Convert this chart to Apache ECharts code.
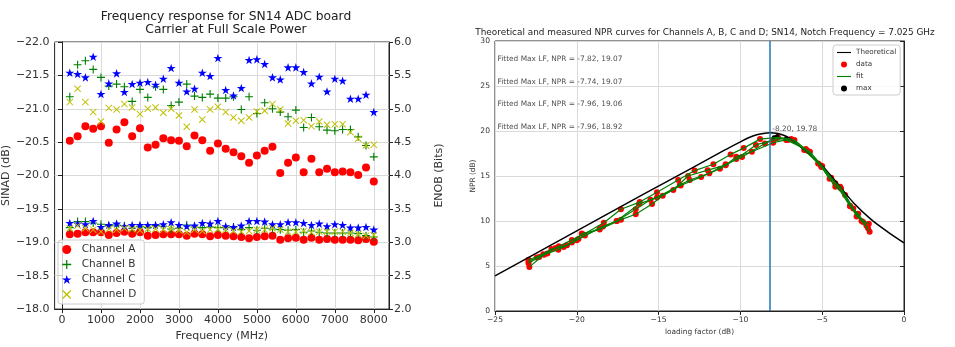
<!DOCTYPE html>
<html>
<head>
<meta charset="utf-8">
<script src="https://cdn.jsdelivr.net/npm/echarts@6.0.0/dist/echarts.min.js"></script>
<style>
  html, body { margin: 0; padding: 0; background: #fff; }
  #chart { width: 955px; height: 347px; }
</style>
</head>
<body>
<div id="chart"></div>
<script>
// ---- left panel: SINAD (left, inverted) and ENOB (right) vs frequency ----
const freqs = [200, 400, 600, 800, 1000, 1200, 1400, 1600, 1800, 2000,
  2200, 2400, 2600, 2800, 3000, 3200, 3400, 3600, 3800, 4000,
  4200, 4400, 4600, 4800, 5000, 5200, 5400, 5600, 5800, 6000,
  6200, 6400, 6600, 6800, 7000, 7200, 7400, 7600, 7800, 8000];
const freqTicks = [0, 1000, 2000, 3000, 4000, 5000, 6000, 7000, 8000];

const sinadA = [-20.52, -20.59, -20.74, -20.70, -20.74, -20.49, -20.69, -20.80, -20.59, -20.71,
  -20.42, -20.46, -20.56, -20.53, -20.52, -20.44, -20.60, -20.53, -20.37, -20.48,
  -20.40, -20.35, -20.29, -20.19, -20.30, -20.37, -20.43, -20.04, -20.19, -20.27,
  -20.05, -20.25, -20.05, -20.10, -20.05, -20.06, -20.05, -20.01, -20.12, -19.91];
const sinadB = [-21.18, -21.66, -21.72, -21.59, -21.47, -21.34, -21.37, -21.33, -21.11, -21.29,
  -21.17, -21.33, -21.29, -21.05, -21.10, -21.37, -21.19, -21.17, -21.22, -21.16,
  -21.16, -21.18, -20.99, -21.18, -20.93, -21.09, -21.00, -20.95, -20.88, -20.98,
  -20.72, -20.87, -20.73, -20.68, -20.67, -20.69, -20.69, -20.58, -20.45, -20.28];
const sinadC = [-21.54, -21.52, -21.47, -21.78, -21.22, -21.38, -21.53, -21.25, -21.37, -21.39,
  -21.40, -21.36, -21.45, -21.61, -21.39, -21.26, -21.30, -21.54, -21.49, -21.76,
  -21.28, -21.20, -21.31, -21.73, -21.74, -21.67, -21.47, -21.44, -21.62, -21.62,
  -21.55, -21.38, -21.48, -21.26, -21.45, -21.42, -21.15, -21.15, -21.21, -20.95];
const sinadD = [-21.10, -21.30, -21.10, -20.95, -20.81, -21.01, -20.99, -21.07, -21.02, -20.92,
  -21.00, -21.02, -20.94, -21.00, -20.90, -20.73, -20.99, -20.84, -20.99, -21.03,
  -20.95, -20.87, -20.82, -20.87, -20.96, -20.97, -21.07, -20.99, -20.78, -20.82,
  -20.83, -20.74, -20.81, -20.76, -20.77, -20.77, -20.65, -20.55, -20.45, -20.46];

const enobA = [3.12, 3.13, 3.15, 3.15, 3.15, 3.11, 3.14, 3.16, 3.13, 3.15,
  3.10, 3.11, 3.12, 3.12, 3.12, 3.10, 3.13, 3.12, 3.09, 3.11,
  3.10, 3.09, 3.08, 3.06, 3.08, 3.09, 3.10, 3.04, 3.06, 3.07,
  3.04, 3.07, 3.04, 3.05, 3.04, 3.04, 3.04, 3.03, 3.05, 3.01];
const enobB = [3.22, 3.31, 3.31, 3.29, 3.27, 3.25, 3.26, 3.25, 3.21, 3.24,
  3.22, 3.25, 3.24, 3.20, 3.21, 3.26, 3.23, 3.22, 3.23, 3.22,
  3.22, 3.23, 3.19, 3.22, 3.18, 3.21, 3.20, 3.19, 3.18, 3.19,
  3.15, 3.17, 3.15, 3.14, 3.14, 3.14, 3.14, 3.13, 3.10, 3.08];
const enobC = [3.29, 3.28, 3.27, 3.32, 3.23, 3.26, 3.28, 3.24, 3.26, 3.26,
  3.26, 3.26, 3.27, 3.30, 3.26, 3.24, 3.25, 3.29, 3.28, 3.32,
  3.24, 3.23, 3.25, 3.32, 3.32, 3.31, 3.27, 3.27, 3.30, 3.30,
  3.29, 3.26, 3.28, 3.24, 3.27, 3.26, 3.22, 3.22, 3.23, 3.19];
const enobD = [3.21, 3.25, 3.21, 3.19, 3.16, 3.20, 3.19, 3.21, 3.20, 3.18,
  3.20, 3.20, 3.19, 3.20, 3.18, 3.15, 3.19, 3.17, 3.19, 3.20,
  3.19, 3.17, 3.16, 3.17, 3.19, 3.19, 3.21, 3.19, 3.16, 3.16,
  3.17, 3.15, 3.16, 3.16, 3.16, 3.16, 3.14, 3.12, 3.10, 3.11];

// ---- right panel: NPR vs loading factor ----
const theoLF = [-25, -22, -19, -16, -13, -11, -10, -9.5, -9, -8.5, -8.2, -7.8, -7.4, -7, -6.4, -6, -5, -4, -3, -2, -1, 0];
const theoNPR = [3.9, 6.9, 9.9, 12.9, 15.85, 17.85, 18.8, 19.25, 19.58, 19.76, 19.8, 19.74, 19.55, 19.2, 18.35, 17.75, 16.15, 14.0, 11.85, 10.15, 8.8, 7.57];

const lfA = [-22.95, -22.05, -21.1, -20.3, -19.6, -18.35, -17.3, -16.15, -15.1, -13.8, -12.8, -11.65, -10.6, -9.8, -8.8, -7.7, -6.9, -6.1, -5.25, -4.45, -3.85, -3.3, -2.8, -2.3];
const nprA = [5.7, 6.3, 7.2, 7.9, 8.5, 9.8, 11.3, 12.1, 13.2, 14.55, 15.6, 16.3, 17.4, 18.1, 19.1, 19.3, 19.1, 17.9, 16.4, 14.8, 13.6, 11.7, 10.8, 9.5];
const lfB = [-22.95, -22.45, -21.55, -20.8, -20.0, -19.5, -18.4, -17.56, -16.4, -15.5, -14.1, -13.2, -12.0, -10.9, -10.25, -9.3, -8.0, -7.2, -6.0, -5.05, -4.2, -3.6, -2.9, -2.15];
const nprB = [5.5, 5.95, 6.9, 7.1, 7.85, 8.4, 9.4, 10.0, 11.3, 12.35, 13.45, 15.0, 15.65, 16.2, 17.15, 17.7, 18.7, 19.0, 18.0, 16.0, 13.8, 12.9, 10.5, 9.7];
const lfC = [-22.95, -22.3, -21.8, -21.13, -20.3, -19.7, -18.6, -17.3, -16.4, -15.4, -14.75, -13.65, -12.4, -11.25, -10.25, -9.05, -8.0, -7.1, -5.75, -5.0, -4.2, -3.3, -2.5, -2.1];
const nprC = [5.3, 6.0, 6.4, 6.8, 7.6, 8.6, 9.05, 10.15, 10.75, 11.9, 12.8, 13.95, 14.9, 15.8, 16.9, 18.45, 19.0, 19.0, 17.7, 16.1, 14.2, 11.65, 9.9, 8.8];
const lfD = [-22.9, -22.0, -21.3, -20.6, -19.9, -18.6, -17.56, -16.2, -15.1, -13.7, -13.1, -11.9, -10.9, -9.9, -8.5, -7.8, -6.7, -5.9, -5.1, -4.55, -3.9, -3.1, -2.6, -2.2];
const nprD = [4.9, 6.25, 7.0, 7.3, 8.0, 9.2, 10.0, 11.9, 12.6, 14.0, 14.55, 15.3, 16.3, 17.1, 18.6, 19.2, 19.0, 17.8, 16.2, 14.7, 13.8, 11.4, 10.0, 9.2];

const maxLF = [-7.82, -7.74, -7.96, -7.2];
const maxNPR = [19.35, 19.45, 19.3, 19.2];
const notchLF = -8.2;

const noteLF = [-25, -25, -25, -25, -8.2];
const noteNPR = [27.5, 25, 22.5, 20, 19.78];
const noteText = ['Fitted Max LF, NPR = -7.82, 19.07', 'Fitted Max LF, NPR = -7.74, 19.07',
  'Fitted Max LF, NPR = -7.96, 19.06', 'Fitted Max LF, NPR = -7.96, 18.92', '-8.20, 19.78'];

// matplotlib-like markers
const plusPath = 'path://M4.3,0H5.7V4.3H10V5.7H5.7V10H4.3V5.7H0V4.3H4.3Z';
const crossPath = 'path://M1,0L5,4L9,0L10,1L6,5L10,9L9,10L5,6L1,10L0,9L4,5L0,1Z';
const starPath = 'path://M50,0L61.2,34.5L97.6,34.5L68.2,55.9L79.4,90.5L50,69.1L20.6,90.5L31.8,55.9L2.4,34.5L38.8,34.5Z';
const lineIcon = 'path://M0,0H20V1.6H0Z';

const pairs = (xs, ys) => xs.map((x, i) => [x, ys[i]]);
const minus = s => String(s).replace('-', '\u2212');
const font = 'DejaVu Sans';

const channels = [
  { name: 'Channel A', sinad: sinadA, enob: enobA, symbol: 'circle', size: 8, color: '#ff0000' },
  { name: 'Channel B', sinad: sinadB, enob: enobB, symbol: plusPath, size: 8, color: '#008000' },
  { name: 'Channel C', sinad: sinadC, enob: enobC, symbol: starPath, size: 9, color: '#0000ff' },
  { name: 'Channel D', sinad: sinadD, enob: enobD, symbol: crossPath, size: 7, color: '#bfbf00' }
];

const series = [];
channels.forEach(ch => {
  [[0, ch.sinad], [1, ch.enob]].forEach(([yi, vals]) => {
    series.push({
      name: ch.name, type: 'scatter', xAxisIndex: 0, yAxisIndex: yi,
      data: pairs(freqs, vals), symbol: ch.symbol, symbolSize: ch.size,
      symbolKeepAspect: true, itemStyle: { color: ch.color, opacity: 1 }
    });
  });
});

series.push({
  name: 'Theoretical', type: 'line', xAxisIndex: 1, yAxisIndex: 2,
  data: pairs(theoLF, theoNPR), smooth: 0.3, symbol: 'none',
  lineStyle: { color: '#000', width: 1.5 }, itemStyle: { color: '#000' },
  markLine: {
    silent: true, symbol: 'none', label: { show: false },
    lineStyle: { color: '#1f77b4', width: 1.5, type: 'solid' },
    data: [{ xAxis: notchLF }]
  }
});
[[lfA, nprA], [lfB, nprB], [lfC, nprC], [lfD, nprD]].forEach(([xs, ys]) => {
  series.push({
    name: 'data', type: 'scatter', xAxisIndex: 1, yAxisIndex: 2,
    data: pairs(xs, ys), symbolSize: 6, itemStyle: { color: '#ff0000', opacity: 1 }
  });
});
[[lfA, nprA], [lfB, nprB], [lfC, nprC], [lfD, nprD]].forEach(([xs, ys]) => {
  series.push({
    name: 'fit', type: 'line', xAxisIndex: 1, yAxisIndex: 2,
    data: pairs(xs, ys), symbol: 'none',
    lineStyle: { color: '#008000', width: 1.2 }, itemStyle: { color: '#008000' }
  });
});
series.push({
  name: 'max', type: 'scatter', xAxisIndex: 1, yAxisIndex: 2,
  data: pairs(maxLF, maxNPR), symbolSize: 4, itemStyle: { color: '#000', opacity: 1 }
});
series.push({
  name: 'notes', type: 'scatter', xAxisIndex: 1, yAxisIndex: 2, silent: true,
  data: noteLF.map((x, i) => ({ value: [x, noteNPR[i]], text: noteText[i] })),
  symbolSize: 1, itemStyle: { color: 'rgba(0,0,0,0)' },
  label: {
    show: true, position: 'right', distance: 2, offset: [0, -4],
    formatter: p => p.data.text, fontSize: 7.4, fontFamily: font, color: '#222'
  }
});

const axisCommon = {
  axisLine: { lineStyle: { color: '#222' } },
  axisTick: { length: 4, lineStyle: { color: '#222' } },
  splitLine: { show: true, lineStyle: { color: '#dadada' } }
};

const option = {
  animation: false,
  backgroundColor: '#fff',
  textStyle: { fontFamily: font },
  title: [
    {
      text: 'Frequency response for SN14 ADC board\nCarrier at Full Scale Power',
      left: 221, top: 5, textAlign: 'center',
      textStyle: { fontSize: 12.3, fontWeight: 'normal', color: '#222', lineHeight: 13, fontFamily: font }
    },
    {
      text: 'Theoretical and measured NPR curves for Channels A, B, C and D; SN14, Notch Frequency = 7.025 GHz',
      left: 700, top: 23, textAlign: 'center',
      textStyle: { fontSize: 8.9, fontWeight: 'normal', color: '#222', fontFamily: font }
    }
  ],
  legend: [
    {
      data: ['Channel A', 'Channel B', 'Channel C', 'Channel D'],
      orient: 'vertical', left: 58, top: 240, itemGap: 4,
      itemWidth: 20, itemHeight: 9,
      padding: [4, 8, 4, 4],
      backgroundColor: 'rgba(255,255,255,0.8)', borderColor: '#ccc', borderWidth: 1, borderRadius: 3,
      textStyle: { fontSize: 10.5, color: '#333', fontFamily: font }
    },
    {
      data: [{ name: 'Theoretical', icon: lineIcon }, 'data', { name: 'fit', icon: lineIcon }, 'max'],
      orient: 'vertical', left: 833, top: 45, itemGap: 5,
      itemWidth: 14, itemHeight: 6,
      padding: [4, 4, 3, 4],
      backgroundColor: 'rgba(255,255,255,0.8)', borderColor: '#ccc', borderWidth: 1, borderRadius: 3,
      textStyle: { fontSize: 7.2, color: '#333', fontFamily: font }
    }
  ],
  grid: [
    { left: 54, top: 42, width: 335, height: 269, show: true, borderColor: '#222', borderWidth: 1 },
    { left: 495, top: 41, width: 409, height: 270, show: true, borderColor: '#222', borderWidth: 1 }
  ],
  xAxis: [
    {
      ...axisCommon, type: 'value', gridIndex: 0, min: -190, max: 8390, splitNumber: 9,
      name: 'Frequency (MHz)', nameLocation: 'middle', nameGap: 19,
      nameTextStyle: { fontSize: 11, color: '#333' },
      axisTick: { ...axisCommon.axisTick, customValues: freqTicks },
      axisLabel: { customValues: freqTicks, fontSize: 11, color: '#333', margin: 6, formatter: v => String(v) }
    },
    {
      ...axisCommon, type: 'value', gridIndex: 1, min: -25, max: 0, interval: 5,
      name: 'loading factor (dB)', nameLocation: 'middle', nameGap: 15,
      nameTextStyle: { fontSize: 7.4, color: '#333' },
      axisLabel: { fontSize: 7.6, color: '#333', margin: 5, formatter: v => minus(v) }
    }
  ],
  yAxis: [
    {
      ...axisCommon, type: 'value', gridIndex: 0, min: -22, max: -18, interval: 0.5, inverse: true,
      name: 'SINAD (dB)', nameLocation: 'middle', nameGap: 37, nameRotate: 90,
      nameTextStyle: { fontSize: 11, color: '#333' },
      axisLabel: { fontSize: 11, color: '#333', margin: 5, formatter: v => minus(v.toFixed(1)) }
    },
    {
      ...axisCommon, type: 'value', gridIndex: 0, min: 2, max: 6, interval: 0.5, position: 'right',
      splitLine: { show: false },
      name: 'ENOB (Bits)', nameLocation: 'middle', nameGap: 45, nameRotate: 90,
      nameTextStyle: { fontSize: 11, color: '#333' },
      axisLabel: { fontSize: 11, color: '#333', margin: 5, formatter: v => v.toFixed(1) }
    },
    {
      ...axisCommon, type: 'value', gridIndex: 1, min: 0, max: 30, interval: 5,
      name: 'NPR (dB)', nameLocation: 'middle', nameGap: 16, nameRotate: 90,
      nameTextStyle: { fontSize: 7.4, color: '#333' },
      axisLabel: { fontSize: 7.6, color: '#333', margin: 5 }
    }
  ],
  series: series
};

const chart = echarts.init(document.getElementById('chart'));
chart.setOption(option);
</script>
</body>
</html>
